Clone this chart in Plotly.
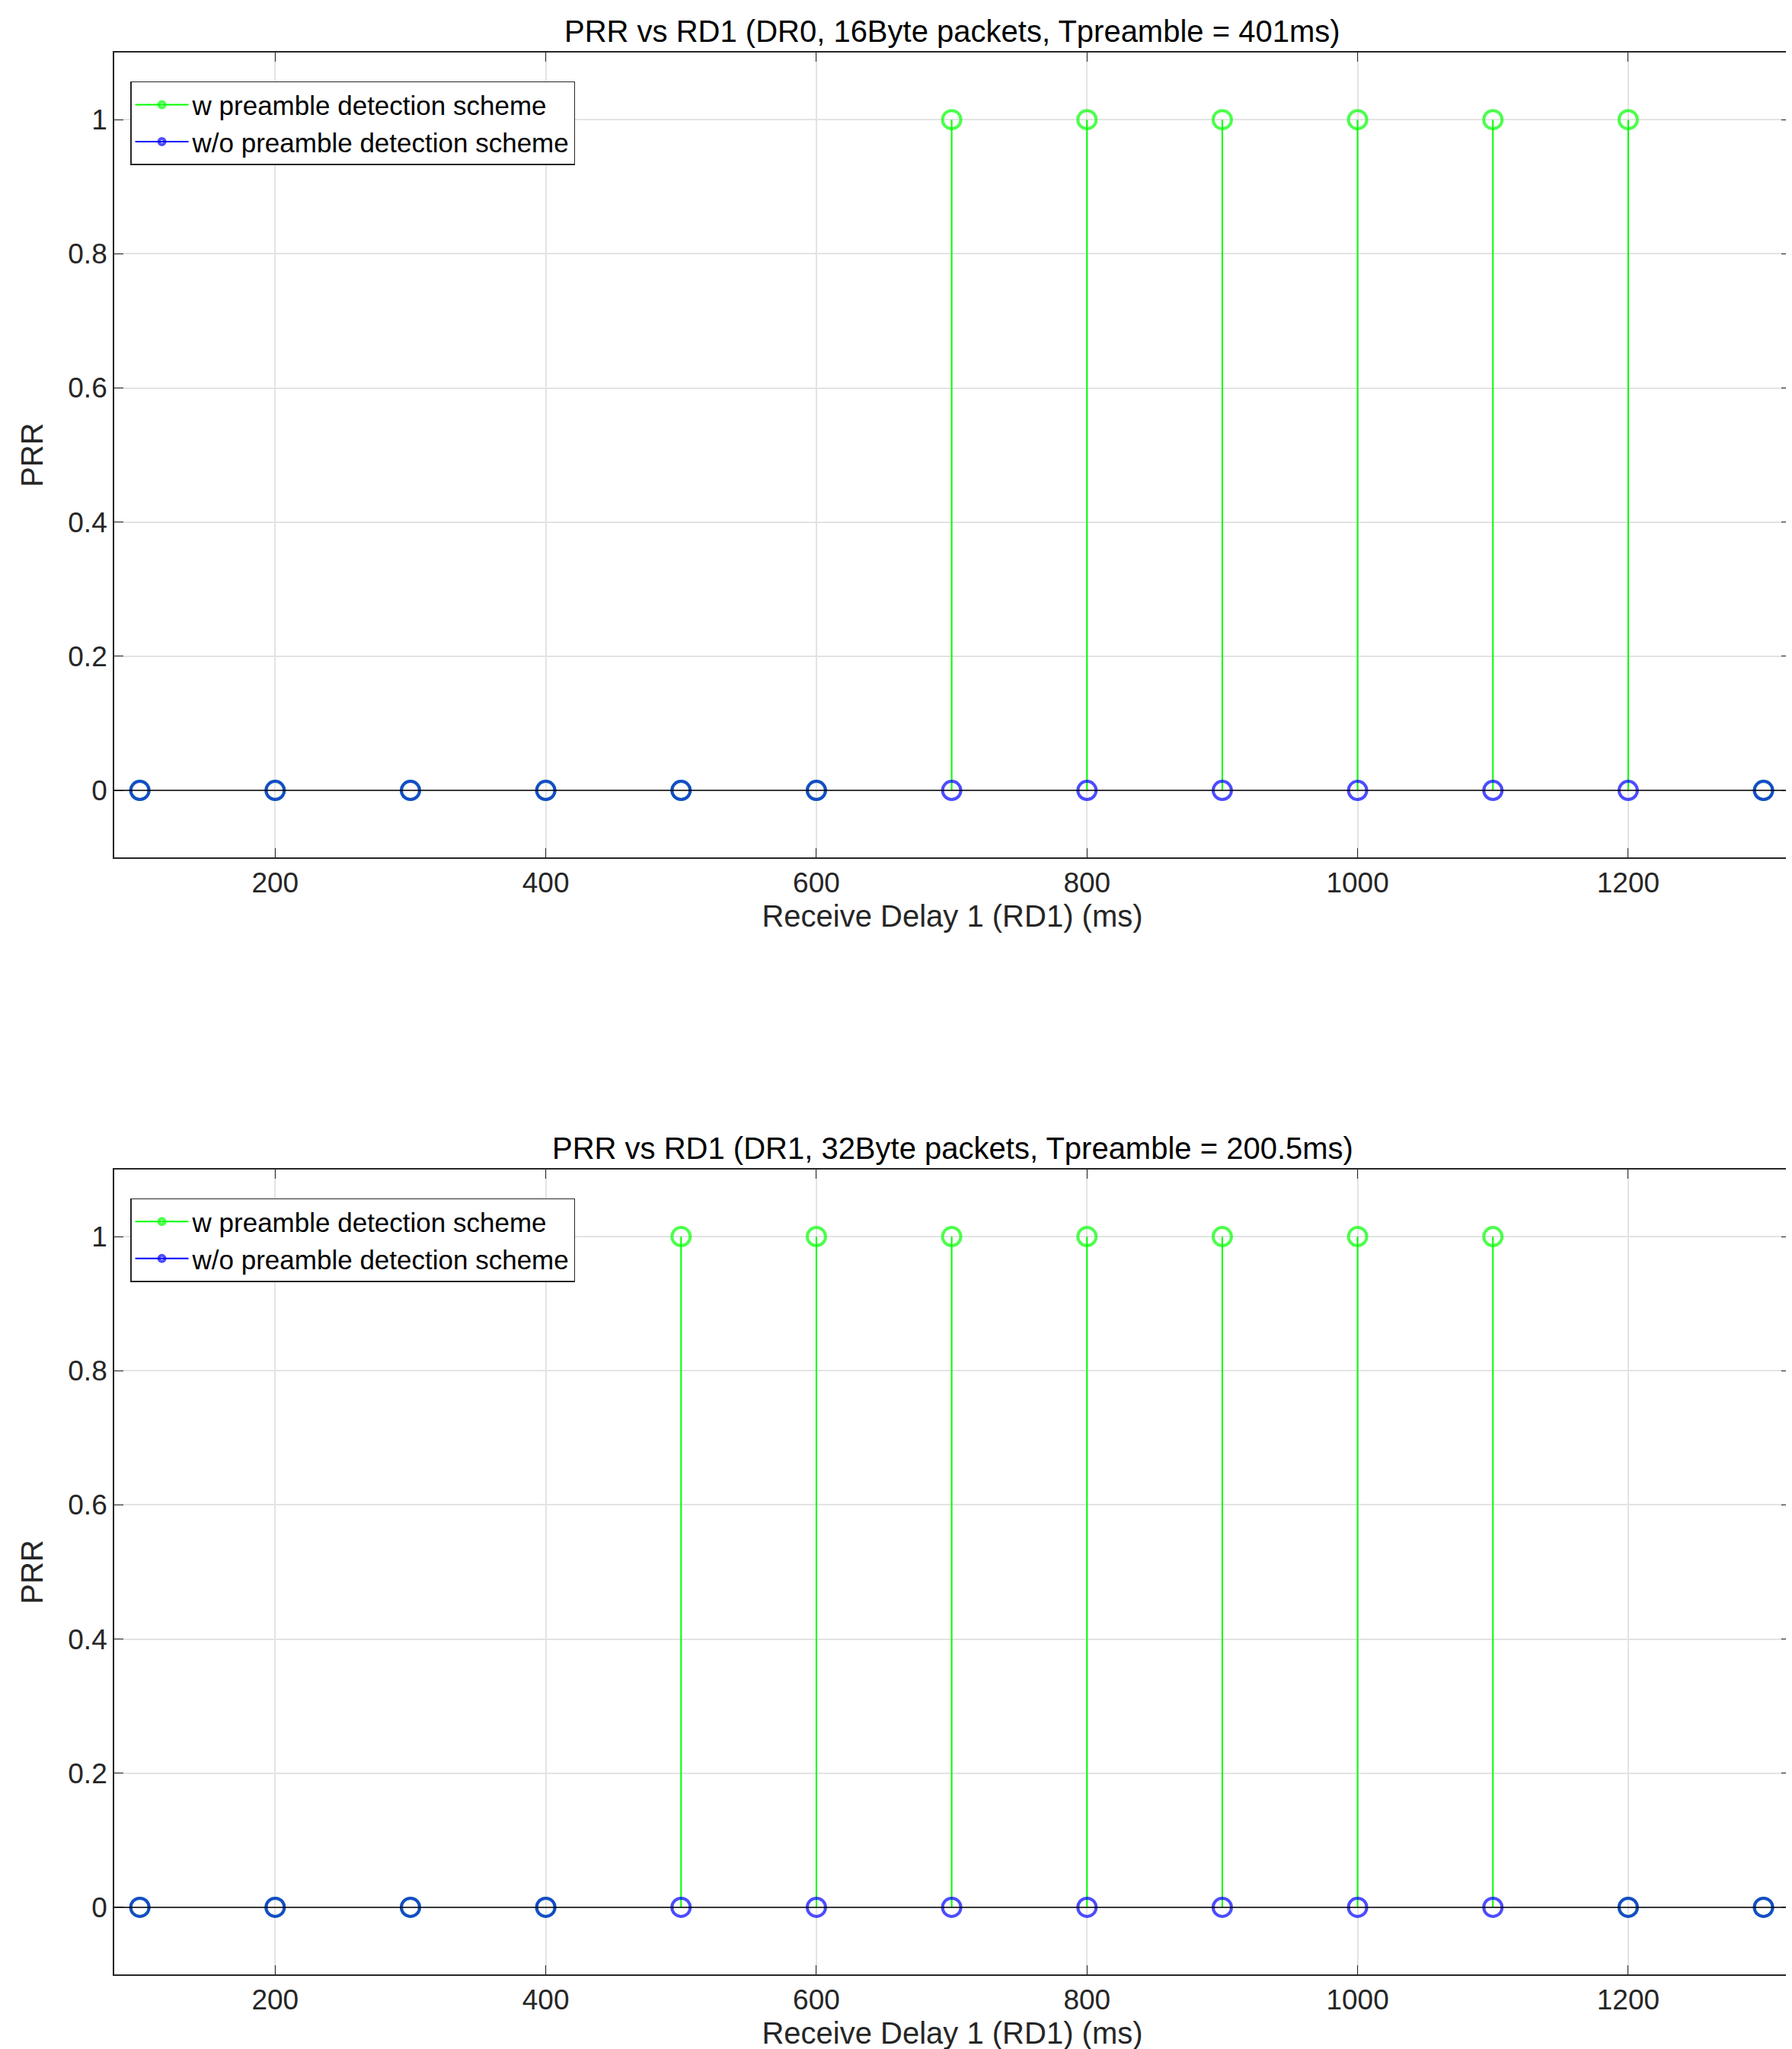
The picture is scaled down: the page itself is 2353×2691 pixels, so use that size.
import plotly.graph_objects as go

rd1 = [100, 200, 300, 400, 500, 600, 700, 800, 900, 1000, 1100, 1200, 1300]
prr_w_top = [0, 0, 0, 0, 0, 0, 1, 1, 1, 1, 1, 1, 0]
prr_wo_top = [0] * 13
prr_w_bot = [0, 0, 0, 0, 1, 1, 1, 1, 1, 1, 1, 0, 0]
prr_wo_bot = [0] * 13
titles = ["PRR vs RD1 (DR0, 16Byte packets, Tpreamble = 401ms)",
          "PRR vs RD1 (DR1, 32Byte packets, Tpreamble = 200.5ms)"]
names = ["w preamble detection scheme", "w/o preamble detection scheme"]

FONT = "Liberation Sans, Arial, sans-serif"
fig = go.Figure()

def stem(x, y, color, name, xa, ya, legend):
    xs, ys, sz = [], [], []
    for a, b in zip(x, y):
        xs += [a, a, None]; ys += [b, 0, None]; sz += [24, 0, 0]
    fig.add_trace(go.Scatter(x=xs, y=ys, mode="lines+markers", name=name,
        line=dict(color=color, width=2),
        marker=dict(symbol="circle-open", size=sz, color=color, line=dict(width=4, color=color)),
        xaxis=xa, yaxis=ya, legend=legend))

stem(rd1, prr_w_top, "#00ff00", names[0], "x", "y", "legend")
stem(rd1, prr_wo_top, "#0000ff", names[1], "x", "y", "legend")
stem(rd1, prr_w_bot, "#00ff00", names[0], "x2", "y2", "legend2")
stem(rd1, prr_wo_bot, "#0000ff", names[1], "x2", "y2", "legend2")

xd = [0.0603, 0.9958]
doms = [[0.5845, 0.9773], [0.0394, 0.4322]]
ax = dict(showline=True, mirror="allticks", linecolor="#262626", linewidth=1.5,
          ticks="inside", ticklen=12, tickcolor="#262626", showgrid=True,
          gridcolor="#e3e3e3", gridwidth=1.5, zeroline=False,
          tickfont=dict(size=37, color="#262626", family=FONT))
for i, (xa, ya) in enumerate([("xaxis", "yaxis"), ("xaxis2", "yaxis2")]):
    fig.layout[xa] = go.layout.XAxis(domain=xd, range=[81, 1320],
        tickvals=[200, 400, 600, 800, 1000, 1200], anchor="y" if i == 0 else "y2",
        title=dict(text="Receive Delay 1 (RD1) (ms)", font=dict(size=40, color="#262626", family=FONT), standoff=10), **ax)
    fig.layout[ya] = go.layout.YAxis(domain=doms[i], range=[-0.1, 1.1],
        tickvals=[0, 0.2, 0.4, 0.6, 0.8, 1], ticktext=["0", "0.2", "0.4", "0.6", "0.8", "1"],
        anchor="x" if i == 0 else "x2",
        title=dict(text="PRR", font=dict(size=40, color="#262626", family=FONT), standoff=20), **ax)
    fig.add_shape(type="line", xref=("x" if i == 0 else "x2") + " domain", yref="y" if i == 0 else "y2",
                  x0=0, x1=1, y0=0, y1=0, line=dict(color="black", width=1.5))
    fig.add_annotation(text=titles[i], xref="paper", yref="paper", x=sum(xd)/2,
                       y=doms[i][1], yanchor="bottom", yshift=4, showarrow=False,
                       font=dict(size=40, color="black", family=FONT))

leg = dict(x=0.0693, xanchor="left", yanchor="top", bgcolor="white",
           bordercolor="#262626", borderwidth=1.5, itemwidth=70,
           font=dict(size=35, color="black", family=FONT), tracegroupgap=0)
fig.update_layout(legend=dict(y=0.9633, **leg), legend2=dict(y=0.4182, **leg),
                  width=2353, height=2691, margin=dict(l=0, r=0, t=0, b=0),
                  plot_bgcolor="white", paper_bgcolor="white")
fig.write_html("out.html")
